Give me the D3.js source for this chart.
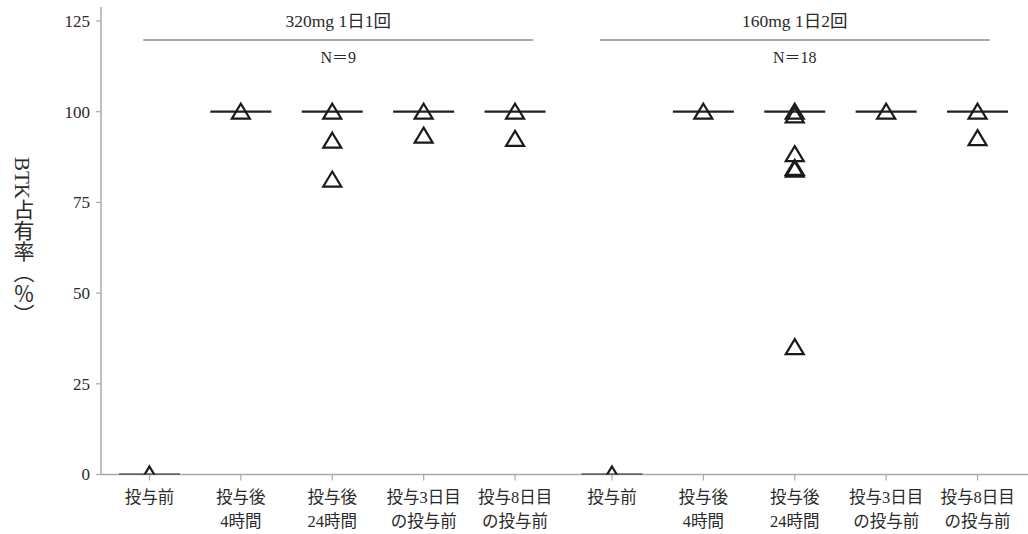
<!DOCTYPE html>
<html>
<head>
<meta charset="utf-8">
<script src="https://cdn.jsdelivr.net/npm/d3@7"></script>
<style>
  body { margin: 0; background: #fff; }
  svg text { font-family: "Liberation Serif", "Noto Sans CJK JP", serif; fill: #2a2a2a; }
</style>
</head>
<body>
<div class="container"></div>
<script>
// data
const groups = ["320mg 1日1回", "160mg 1日2回"];
const groupN = ["N＝9", "N＝18"];
const timepoints = ["t0", "t4h", "t24h", "d3", "d8"];
const tickLine1 = ["投与前", "投与後", "投与後", "投与3日目", "投与8日目"];
const tickLine2 = ["", "4時間", "24時間", "の投与前", "の投与前"];

// individual points (unique positions), per group then timepoint
const pts320 = [[0], [100], [100, 92, 81.3], [100, 93.4], [100, 92.5]];
const pts160 = [[0], [100], [100, 99, 88.3, 84.5, 84, 35.1], [100], [100, 92.7]];
const line320 = [0, 100, 100, 100, 100];
const line160 = [0, 100, 100, 100, 100];

const yTicks = [0, 25, 50, 75, 100, 125];

const w = 1028, h = 534;
const padLeft = 101, padBottom = 474.5, padTop = 21;

const svg = d3.select(".container").append("svg")
  .attr("width", w).attr("height", h);

const yScale = d3.scaleLinear().domain([0, 125]).range([padBottom, padTop]);
const gScale = d3.scaleBand().domain(groups).range([padLeft, 1026]);
const tScale = d3.scalePoint().domain(timepoints).range([-182.8, 182.8]);
const xPos = (g, t) => gScale(g) + gScale.bandwidth() / 2 + tScale(t);

// clip for marks
svg.append("clipPath").attr("id", "plot")
  .append("rect").attr("x", padLeft).attr("y", 0).attr("width", w - padLeft).attr("height", padBottom);

// y axis
const yAxis = svg.append("g").attr("transform", `translate(${padLeft},0)`);
yAxis.append("line").attr("x1", 0).attr("x2", 0).attr("y1", 7).attr("y2", padBottom)
  .attr("stroke", "#aaa").attr("stroke-width", 1.5);
yAxis.selectAll(".tk").data(yTicks).enter().append("line")
  .attr("x1", -5).attr("x2", 0)
  .attr("y1", d => yScale(d)).attr("y2", d => yScale(d))
  .attr("stroke", "#aaa").attr("stroke-width", 1.2);
yAxis.selectAll(".lb").data(yTicks).enter().append("text")
  .attr("x", -11).attr("y", d => yScale(d)).attr("dy", "0.35em")
  .attr("text-anchor", "end").style("font-size", "17px")
  .text(d => d);

// y label
svg.append("text")
  .attr("x", 22).attr("y", 241)
  .attr("text-anchor", "middle")
  .style("writing-mode", "vertical-rl")
  .style("font-size", "21px")
  .text("BTK占有率（％）");

// x axis
svg.append("line").attr("x1", padLeft).attr("x2", w).attr("y1", padBottom).attr("y2", padBottom)
  .attr("stroke", "#aaa").attr("stroke-width", 1.5);

const allTicks = [];
groups.forEach(g => timepoints.forEach((t, i) => allTicks.push({ g, t, i })));

svg.selectAll(".xt").data(allTicks).enter().append("line")
  .attr("x1", d => xPos(d.g, d.t)).attr("x2", d => xPos(d.g, d.t))
  .attr("y1", padBottom).attr("y2", padBottom + 6)
  .attr("stroke", "#aaa").attr("stroke-width", 1.2);
svg.selectAll(".xl1").data(allTicks).enter().append("text")
  .attr("x", d => xPos(d.g, d.t)).attr("y", 503)
  .attr("text-anchor", "middle").style("font-size", "16.5px")
  .text(d => tickLine1[d.i]);
svg.selectAll(".xl2").data(allTicks).enter().append("text")
  .attr("x", d => xPos(d.g, d.t)).attr("y", 527)
  .attr("text-anchor", "middle").style("font-size", "16.5px")
  .text(d => tickLine2[d.i]);

// group headers
groups.forEach((g, gi) => {
  const cx = gScale(g) + gScale.bandwidth() / 2 + (gi === 0 ? 6 : 0);
  svg.append("text").attr("x", cx).attr("y", 27)
    .attr("text-anchor", "middle").style("font-size", "17.5px").text(g);
  svg.append("line")
    .attr("x1", cx - 195).attr("x2", cx + 195)
    .attr("y1", 40).attr("y2", 40)
    .attr("stroke", "#555").attr("stroke-width", 1);
  svg.append("text").attr("x", cx).attr("y", 63)
    .attr("text-anchor", "middle").style("font-size", "16px").text(groupN[gi]);
});

// marks
const marks = svg.append("g").attr("clip-path", "url(#plot)");
const lines = [];
const points = [];
[line320, line160].forEach((arr, gi) => arr.forEach((v, i) => lines.push({ g: groups[gi], t: timepoints[i], v })));
[pts320, pts160].forEach((arr, gi) => arr.forEach((vs, i) => vs.forEach(v => points.push({ g: groups[gi], t: timepoints[i], v }))));

marks.selectAll(".ml").data(lines).enter().append("line")
  .attr("x1", d => xPos(d.g, d.t) - 30.5).attr("x2", d => xPos(d.g, d.t) + 30.5)
  .attr("y1", d => yScale(d.v)).attr("y2", d => yScale(d.v))
  .attr("stroke", "#222").attr("stroke-width", 2.2);

marks.selectAll(".pt").data(points).enter().append("path")
  .attr("d", "M0,-8L9,7L-9,7Z")
  .attr("transform", d => `translate(${xPos(d.g, d.t)},${yScale(d.v)})`)
  .attr("fill", "none").attr("stroke", "#1a1a1a").attr("stroke-width", 2.2)
  .attr("stroke-linejoin", "miter");
</script>
</body>
</html>
